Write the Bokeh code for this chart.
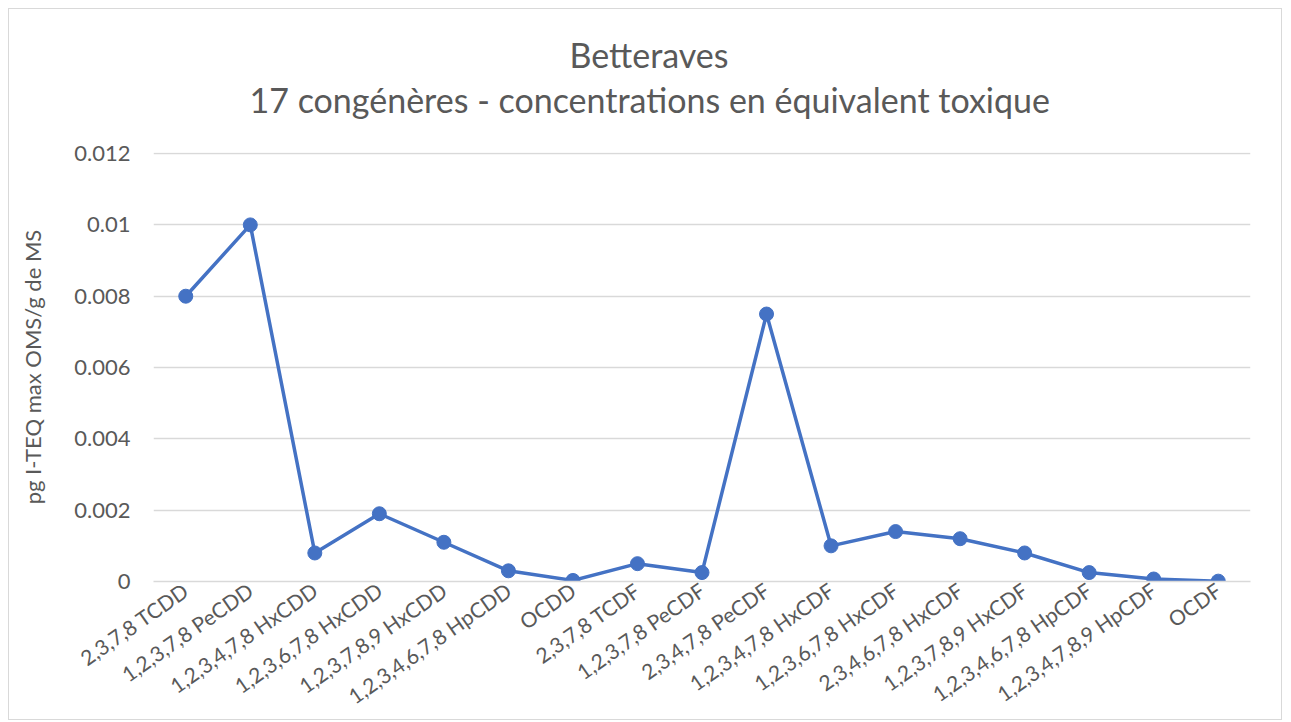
from bokeh.plotting import figure
from bokeh.models import Range1d, FixedTicker, Title, ColumnDataSource
from bokeh.embed import file_html
from bokeh.resources import INLINE
import math

categories = [
    "2,3,7,8 TCDD", "1,2,3,7,8 PeCDD", "1,2,3,4,7,8 HxCDD", "1,2,3,6,7,8 HxCDD",
    "1,2,3,7,8,9 HxCDD", "1,2,3,4,6,7,8 HpCDD", "OCDD", "2,3,7,8 TCDF",
    "1,2,3,7,8 PeCDF", "2,3,4,7,8 PeCDF", "1,2,3,4,7,8 HxCDF", "1,2,3,6,7,8 HxCDF",
    "2,3,4,6,7,8 HxCDF", "1,2,3,7,8,9 HxCDF", "1,2,3,4,6,7,8 HpCDF",
    "1,2,3,4,7,8,9 HpCDF", "OCDF",
]
values = [
    0.008, 0.010, 0.0008, 0.0019, 0.0011, 0.0003, 0.00003, 0.0005, 0.00025,
    0.0075, 0.0010, 0.0014, 0.0012, 0.0008, 0.00025, 0.00007, 0.00001,
]
y_ticks = [0, 0.002, 0.004, 0.006, 0.008, 0.010, 0.012]
title_lines = ["Betteraves", "17 congénères - concentrations en équivalent toxique"]
y_label = "pg I-TEQ max OMS/g de MS"

FONT = "Lato"
GREY = "#595959"
BLUE = "#4472C4"

src = ColumnDataSource(dict(x=categories, y=values))

p = figure(
    x_range=categories, y_range=Range1d(0, 0.01203),
    width=1274, height=712, output_backend="svg", toolbar_location=None,
    min_border_left=144, min_border_right=33, min_border_top=143, min_border_bottom=138,
)
p.title = None
# (standoff, horizontal offset from frame's left edge) per title line
title_place = {title_lines[0]: (-62, 416), title_lines[1]: (66, 96)}
for t in reversed(title_lines):
    so, off = title_place[t]
    p.add_layout(Title(text=t, align="left", offset=off, vertical_align="bottom",
                       text_font=FONT, text_font_size="34px", text_color=GREY,
                       text_font_style="normal", standoff=so), "above")

p.line("x", "y", source=src, line_color=BLUE, line_width=3.5)
p.scatter("x", "y", source=src, size=14, fill_color=BLUE, line_color=BLUE)

p.outline_line_color = None
p.xgrid.grid_line_color = None
p.ygrid.grid_line_color = "#D9D9D9"
p.ygrid.grid_line_width = 1.5

p.yaxis.ticker = FixedTicker(ticks=y_ticks)
p.yaxis.major_label_overrides = {0: "0", 0.01: "0.01"}
p.yaxis.axis_line_color = None
p.yaxis.major_tick_line_color = None
p.yaxis.minor_tick_line_color = None
p.yaxis.major_label_text_font = FONT
p.yaxis.major_label_text_font_size = "22px"
p.yaxis.major_label_text_color = GREY
p.yaxis.major_label_standoff = 17
p.yaxis.axis_label = y_label
p.yaxis.axis_label_text_font = FONT
p.yaxis.axis_label_text_font_size = "22px"
p.yaxis.axis_label_text_color = GREY
p.yaxis.axis_label_text_font_style = "normal"
p.yaxis.axis_label_standoff = 25

p.xaxis.axis_line_color = "#D9D9D9"
p.xaxis.axis_line_width = 1.5
p.xaxis.major_tick_line_color = None
p.xaxis.minor_tick_line_color = None
p.xaxis.major_label_orientation = math.radians(35)
p.xaxis.major_label_text_font = FONT
p.xaxis.major_label_text_font_size = "21px"
p.xaxis.major_label_text_color = GREY
p.xaxis.major_label_standoff = 0
p.x_range.range_padding = 0

p.styles = {"border": "1px solid #D9D9D9", "margin-left": "8px", "margin-top": "8px"}

open("out.html", "w").write(file_html(p, INLINE))
